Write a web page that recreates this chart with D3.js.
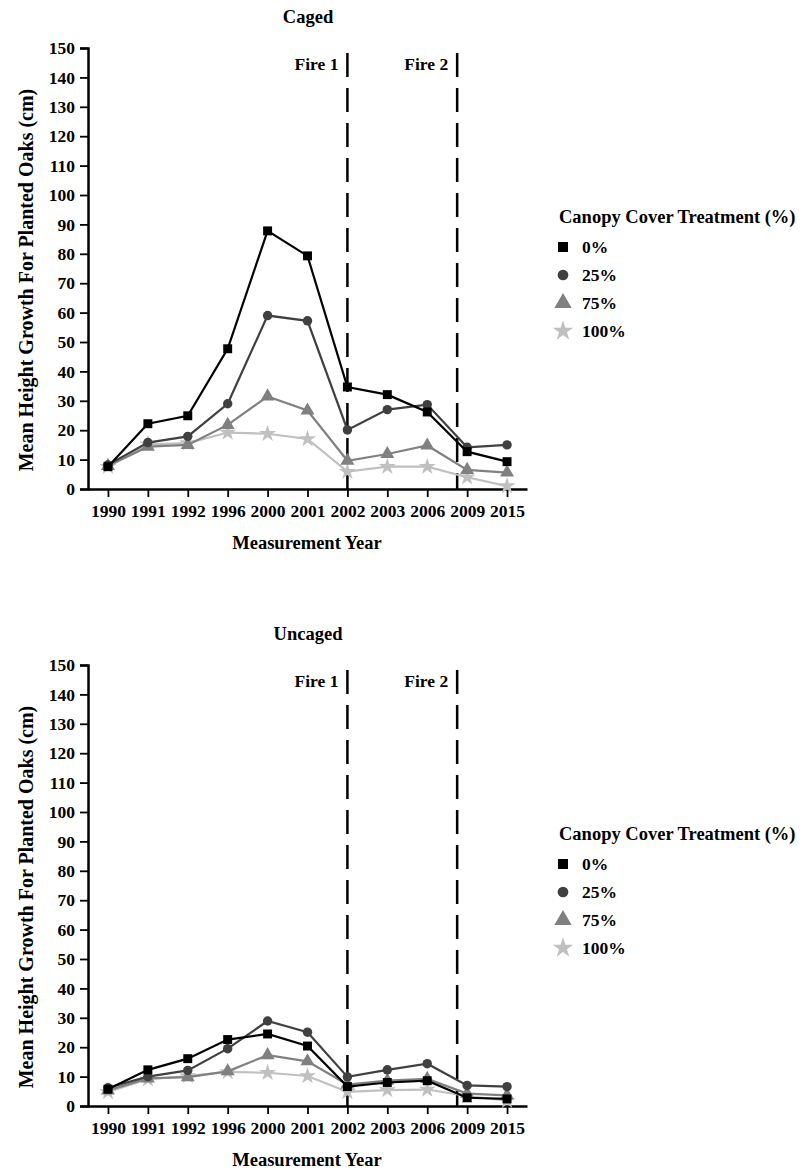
<!DOCTYPE html>
<html lang="en">
    <head>
        <meta charset="utf-8">
        <title>Caged / Uncaged oak growth</title>
        <script type="text/javascript" src="https://cdn.jsdelivr.net/npm/d3@7"></script>
        <style type="text/css">
            body { margin: 0; background: #fff; }
            text { font-family: "Liberation Serif", "Times New Roman", serif; font-weight: bold; fill: #000; }
        </style>
    </head>
    <body>
        <script type="text/javascript">
            var w = 801;
            var h = 1171;

            // Data
            var years = ["1990","1991","1992","1996","2000","2001","2002","2003","2006","2009","2015"];
            var treatments = ["0%","25%","75%","100%"];
            var yTicks = [0,10,20,30,40,50,60,70,80,90,100,110,120,130,140,150];

            var caged0   = [7.6, 22.2, 24.9, 47.7, 87.8, 79.3, 34.7, 32.1, 26.2, 12.7, 9.3];
            var caged25  = [8.2, 15.8, 17.9, 29.0, 59.0, 57.2, 20.1, 27.0, 28.7, 14.2, 15.0];
            var caged75  = [7.8, 14.4, 15.0, 21.8, 31.5, 26.7, 9.6, 11.9, 14.8, 6.5, 5.6];
            var caged100 = [7.6, 15.2, 15.6, 19.2, 18.8, 17.0, 5.9, 7.6, 7.6, 4.0, 1.0];

            var uncaged0   = [5.7, 12.3, 16.1, 22.6, 24.5, 20.4, 6.6, 8.0, 8.6, 2.8, 2.4];
            var uncaged25  = [6.2, 10.0, 12.1, 19.5, 28.9, 25.1, 9.9, 12.3, 14.4, 7.0, 6.6];
            var uncaged75  = [5.3, 9.4, 9.8, 11.8, 17.3, 15.2, 7.3, 8.6, 9.2, 4.2, 3.6];
            var uncaged100 = [4.8, 9.1, 10.2, 11.6, 11.3, 10.2, 4.8, 5.4, 5.6, 3.4, 1.8];

            // fire events: label, year tick, extra offset in steps toward next year
            var fires = [["Fire 1", "2002", 0], ["Fire 2", "2006", 0.75]];

            var colors = ["#000000", "#404040", "#808080", "#c0c0c0"];
            var symbols = [d3.symbolSquare, d3.symbolCircle, d3.symbolTriangle, d3.symbolStar];
            var symSize = [80, 70, 85, 90];
            var legSize = [100, 90, 130, 130];

            var svg = d3.select("body")
                        .append("svg")
                        .attr("width", w)
                        .attr("height", h);

            function drawPanel(offsetY, title, seriesList) {
                var g = svg.append("g").attr("transform", "translate(0," + offsetY + ")");

                var xScale = d3.scalePoint()
                    .domain(years)
                    .range([88, 527])
                    .padding(0.5);

                var yScale = d3.scaleLinear()
                    .domain([0, 150])
                    .range([489, 48]);

                // title
                g.append("text")
                    .attr("x", 308)
                    .attr("y", 23)
                    .attr("text-anchor", "middle")
                    .attr("font-size", "18.5px")
                    .text(title);

                // fire lines
                fires.forEach(function(f) {
                    var fx = xScale(f[1]) + f[2] * xScale.step();
                    g.append("line")
                        .attr("x1", fx).attr("x2", fx)
                        .attr("y1", yScale.range()[1] + 5)
                        .attr("y2", yScale(0))
                        .attr("stroke", "#000")
                        .attr("stroke-width", 2.5)
                        .attr("stroke-dasharray", "24,11");
                    g.append("text")
                        .attr("x", fx - 9)
                        .attr("y", 70)
                        .attr("text-anchor", "end")
                        .attr("font-size", "17.5px")
                        .text(f[0]);
                });

                // axes
                var yAxis = g.append("g")
                    .attr("transform", "translate(88,0)")
                    .call(d3.axisLeft(yScale).tickValues(yTicks).tickSize(8).tickPadding(5));
                var xAxis = g.append("g")
                    .attr("transform", "translate(0," + yScale(0) + ")")
                    .call(d3.axisBottom(xScale).tickSize(8).tickSizeOuter(0).tickPadding(8));

                [yAxis, xAxis].forEach(function(ax) {
                    ax.select(".domain").attr("stroke-width", 2.5);
                    ax.selectAll(".tick line").attr("stroke-width", 1.8);
                    ax.selectAll(".tick text")
                        .attr("font-family", "Liberation Serif, Times New Roman, serif")
                        .attr("font-weight", "bold")
                        .attr("font-size", "17.5px")
                        .attr("fill", "#000");
                });

                // axis titles
                g.append("text")
                    .attr("x", 307)
                    .attr("y", 549)
                    .attr("text-anchor", "middle")
                    .attr("font-size", "18.5px")
                    .text("Measurement Year");
                g.append("text")
                    .attr("transform", "translate(33,280) rotate(-90)")
                    .attr("text-anchor", "middle")
                    .attr("font-size", "20px")
                    .text("Mean Height Growth For Planted Oaks (cm)");

                // series, lightest first
                var line = d3.line()
                    .x(function(d, i) { return xScale(years[i]); })
                    .y(function(d) { return yScale(d); });

                for (var s = seriesList.length - 1; s >= 0; s--) {
                    g.append("path")
                        .datum(seriesList[s])
                        .attr("d", line)
                        .attr("fill", "none")
                        .attr("stroke", colors[s])
                        .attr("stroke-width", 2.2);

                    g.selectAll(".pt" + s)
                        .data(seriesList[s])
                        .enter()
                        .append("path")
                        .attr("class", "pt" + s)
                        .attr("transform", function(d, i) {
                            return "translate(" + xScale(years[i]) + "," + yScale(d) + ")";
                        })
                        .attr("d", d3.symbol().type(symbols[s]).size(symSize[s]))
                        .attr("fill", colors[s]);
                }

                // legend
                var leg = g.append("g");
                leg.append("text")
                    .attr("x", 559)
                    .attr("y", 223)
                    .attr("font-size", "18.5px")
                    .text("Canopy Cover Treatment (%)");

                var item = leg.selectAll(".item")
                    .data(treatments)
                    .enter()
                    .append("g")
                    .attr("class", "item")
                    .attr("transform", function(d, i) { return "translate(563," + (247 + i * 28) + ")"; });

                item.append("path")
                    .attr("d", function(d, i) { return d3.symbol().type(symbols[i]).size(legSize[i])(); })
                    .attr("fill", function(d, i) { return colors[i]; });

                item.append("text")
                    .attr("x", 19)
                    .attr("y", 6)
                    .attr("font-size", "17.5px")
                    .text(function(d) { return d; });
            }

            drawPanel(0, "Caged", [caged0, caged25, caged75, caged100]);
            drawPanel(617, "Uncaged", [uncaged0, uncaged25, uncaged75, uncaged100]);
        </script>
    </body>
</html>
